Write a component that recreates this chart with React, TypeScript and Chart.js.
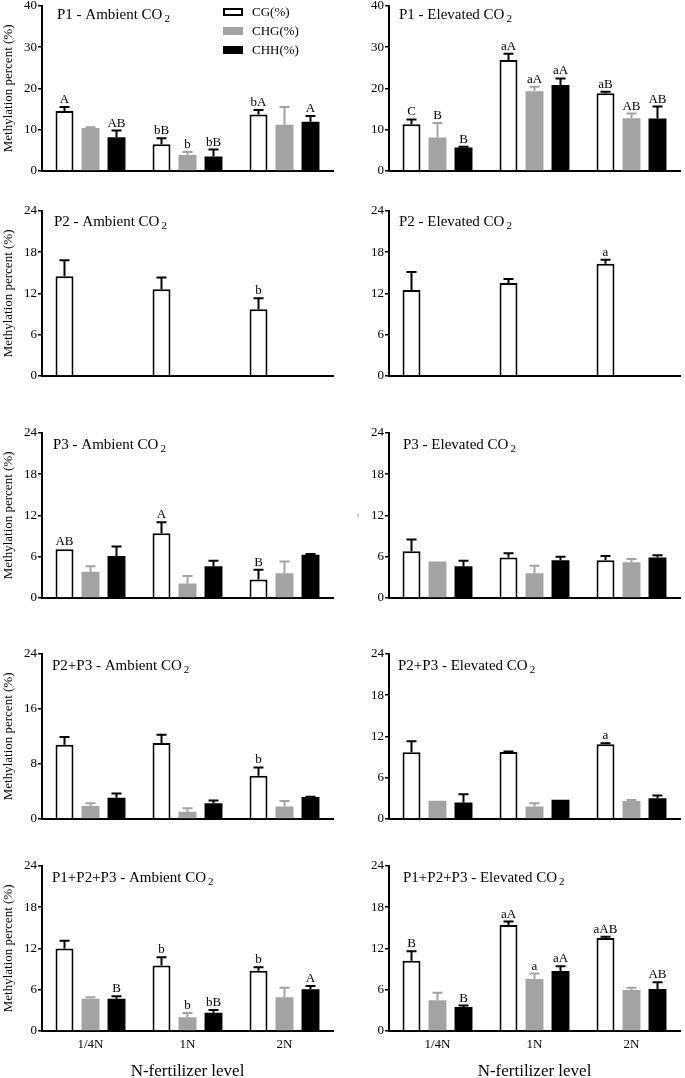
import React, { useEffect, useRef } from "react";
import { Chart, registerables } from "chart.js";
Chart.register(...registerables);

const FONT = "'Liberation Serif', 'Times New Roman', serif";

const categories = ["1/4N", "1N", "2N"];
const seriesNames = ["CG(%)", "CHG(%)", "CHH(%)"];
const yTitle = "Methylation percent (%)";
const xTitle = "N-fertilizer level";

// P1 - Ambient
const p1AmbCG = [14.5, 6.5, 13.7];
const p1AmbCGErr = [1.0, 1.4, 1.1];
const p1AmbCGLet = ["A", "bB", "bA"];
const p1AmbCHG = [10.4, 3.9, 11.2];
const p1AmbCHGErr = [0.2, 0.7, 4.3];
const p1AmbCHGLet = ["", "b", ""];
const p1AmbCHH = [8.2, 3.5, 11.9];
const p1AmbCHHErr = [1.6, 1.7, 1.4];
const p1AmbCHHLet = ["AB", "bB", "A"];

// P1 - Elevated
const p1EleCG = [11.3, 26.9, 18.8];
const p1EleCGErr = [1.2, 1.5, 0.4];
const p1EleCGLet = ["C", "aA", "aB"];
const p1EleCHG = [8.1, 19.3, 12.8];
const p1EleCHGErr = [3.5, 1.1, 1.1];
const p1EleCHGLet = ["B", "aA", "AB"];
const p1EleCHH = [5.7, 20.8, 12.7];
const p1EleCHHErr = [0.2, 1.6, 2.9];
const p1EleCHHLet = ["B", "aA", "AB"];

// P2
const p2AmbCG = [14.5, 12.6, 9.7];
const p2AmbCGErr = [2.3, 1.7, 1.6];
const p2AmbCGLet = ["", "", "b"];
const p2EleCG = [12.5, 13.5, 16.3];
const p2EleCGErr = [2.6, 0.6, 0.6];
const p2EleCGLet = ["", "", "a"];
const none = [null, null, null];

// P3 - Ambient
const p3AmbCG = [7.1, 9.4, 2.7];
const p3AmbCGErr = [0, 1.6, 1.4];
const p3AmbCGLet = ["AB", "A", "B"];
const p3AmbCHG = [3.8, 2.1, 3.6];
const p3AmbCHGErr = [0.8, 1.1, 1.7];
const p3AmbCHH = [6.1, 4.6, 6.3];
const p3AmbCHHErr = [1.4, 0.8, 0.1];

// P3 - Elevated
const p3EleCG = [6.8, 5.9, 5.5];
const p3EleCGErr = [1.7, 0.6, 0.6];
const p3EleCHG = [5.3, 3.6, 5.2];
const p3EleCHGErr = [0, 1.1, 0.45];
const p3EleCHH = [4.6, 5.5, 5.9];
const p3EleCHHErr = [0.8, 0.5, 0.3];

// P2+P3 - Ambient
const p23AmbCG = [10.8, 11.05, 6.3];
const p23AmbCGErr = [1.1, 1.2, 1.2];
const p23AmbCGLet = ["", "", "b"];
const p23AmbCHG = [1.9, 1.05, 1.8];
const p23AmbCHGErr = [0.4, 0.5, 0.8];
const p23AmbCHH = [3.1, 2.3, 3.2];
const p23AmbCHHErr = [0.6, 0.4, 0.05];

// P2+P3 - Elevated
const p23EleCG = [9.7, 9.75, 10.85];
const p23EleCGErr = [1.6, 0.05, 0.15];
const p23EleCGLet = ["", "", "a"];
const p23EleCHG = [2.65, 1.8, 2.6];
const p23EleCHGErr = [0, 0.5, 0.15];
const p23EleCHH = [2.4, 2.8, 3.0];
const p23EleCHHErr = [1.2, 0, 0.4];

// P1+P2+P3 - Ambient
const p123AmbCG = [12.0, 9.5, 8.75];
const p123AmbCGErr = [1.1, 1.2, 0.5];
const p123AmbCGLet = ["", "b", "b"];
const p123AmbCHG = [4.7, 2.0, 4.9];
const p123AmbCHGErr = [0.2, 0.6, 1.4];
const p123AmbCHGLet = ["", "b", ""];
const p123AmbCHH = [4.7, 2.65, 6.05];
const p123AmbCHHErr = [0.35, 0.4, 0.5];
const p123AmbCHHLet = ["B", "bB", "A"];

// P1+P2+P3 - Elevated
const p123EleCG = [10.2, 15.4, 13.5];
const p123EleCGErr = [1.4, 0.5, 0.2];
const p123EleCGLet = ["B", "aA", "aAB"];
const p123EleCHG = [4.45, 7.55, 5.95];
const p123EleCHGErr = [1.1, 0.8, 0.35];
const p123EleCHGLet = ["", "a", ""];
const p123EleCHH = [3.5, 8.7, 6.1];
const p123EleCHHErr = [0.2, 0.7, 1.0];
const p123EleCHHLet = ["B", "aA", "AB"];

const blank = ["", "", ""];
const zero = [0, 0, 0];

// layout geometry
const plotTop = [5, 210, 432, 653, 865];
const plotBottom = [171, 376, 598, 819, 1031];
const titleBase = [18.5, 226, 449, 670, 882];
const colLeft = [0, 340];
const colWidth = [340, 345];
const axisLeft = [42, 389];
const axisRight = [333, 680];
const titleX = [
  [57, 399],
  [54, 399],
  [53, 403],
  [52, 398],
  [52, 403],
];

type S = { v: (number | null)[]; e: number[]; l: string[] };
type PanelDef = {
  row: number;
  col: number;
  title: string;
  ymax: number;
  step: number;
  series: S[];
  legend?: boolean;
  yText?: string;
};

const panels: PanelDef[] = [
  {
    row: 0, col: 0, title: "P1 - Ambient CO", ymax: 40, step: 10, legend: true,
    series: [
      { v: p1AmbCG, e: p1AmbCGErr, l: p1AmbCGLet },
      { v: p1AmbCHG, e: p1AmbCHGErr, l: p1AmbCHGLet },
      { v: p1AmbCHH, e: p1AmbCHHErr, l: p1AmbCHHLet },
    ],
  },
  {
    row: 0, col: 1, title: "P1 - Elevated CO", ymax: 40, step: 10,
    series: [
      { v: p1EleCG, e: p1EleCGErr, l: p1EleCGLet },
      { v: p1EleCHG, e: p1EleCHGErr, l: p1EleCHGLet },
      { v: p1EleCHH, e: p1EleCHHErr, l: p1EleCHHLet },
    ],
  },
  {
    row: 1, col: 0, title: "P2 - Ambient CO", ymax: 24, step: 6,
    series: [
      { v: p2AmbCG, e: p2AmbCGErr, l: p2AmbCGLet },
      { v: none, e: zero, l: blank },
      { v: none, e: zero, l: blank },
    ],
  },
  {
    row: 1, col: 1, title: "P2 - Elevated CO", ymax: 24, step: 6,
    series: [
      { v: p2EleCG, e: p2EleCGErr, l: p2EleCGLet },
      { v: none, e: zero, l: blank },
      { v: none, e: zero, l: blank },
    ],
  },
  {
    row: 2, col: 0, title: "P3 - Ambient CO", ymax: 24, step: 6,
    series: [
      { v: p3AmbCG, e: p3AmbCGErr, l: p3AmbCGLet },
      { v: p3AmbCHG, e: p3AmbCHGErr, l: blank },
      { v: p3AmbCHH, e: p3AmbCHHErr, l: blank },
    ],
  },
  {
    row: 2, col: 1, title: "P3 - Elevated CO", ymax: 24, step: 6, yText: "=",
    series: [
      { v: p3EleCG, e: p3EleCGErr, l: blank },
      { v: p3EleCHG, e: p3EleCHGErr, l: blank },
      { v: p3EleCHH, e: p3EleCHHErr, l: blank },
    ],
  },
  {
    row: 3, col: 0, title: "P2+P3 - Ambient CO", ymax: 24, step: 8,
    series: [
      { v: p23AmbCG, e: p23AmbCGErr, l: p23AmbCGLet },
      { v: p23AmbCHG, e: p23AmbCHGErr, l: blank },
      { v: p23AmbCHH, e: p23AmbCHHErr, l: blank },
    ],
  },
  {
    row: 3, col: 1, title: "P2+P3 - Elevated CO", ymax: 24, step: 6,
    series: [
      { v: p23EleCG, e: p23EleCGErr, l: p23EleCGLet },
      { v: p23EleCHG, e: p23EleCHGErr, l: blank },
      { v: p23EleCHH, e: p23EleCHHErr, l: blank },
    ],
  },
  {
    row: 4, col: 0, title: "P1+P2+P3 - Ambient CO", ymax: 24, step: 6,
    series: [
      { v: p123AmbCG, e: p123AmbCGErr, l: p123AmbCGLet },
      { v: p123AmbCHG, e: p123AmbCHGErr, l: p123AmbCHGLet },
      { v: p123AmbCHH, e: p123AmbCHHErr, l: p123AmbCHHLet },
    ],
  },
  {
    row: 4, col: 1, title: "P1+P2+P3 - Elevated CO", ymax: 24, step: 6,
    series: [
      { v: p123EleCG, e: p123EleCGErr, l: p123EleCGLet },
      { v: p123EleCHG, e: p123EleCHGErr, l: p123EleCHGLet },
      { v: p123EleCHH, e: p123EleCHHErr, l: p123EleCHHLet },
    ],
  },
];

const fills = ["#ffffff", "#a3a3a3", "#000000"];
const borders = ["#000000", "#a3a3a3", "#000000"];
const borderWidths = [2, 0, 0];
const errColors = ["#000000", "#a3a3a3", "#000000"];

const errorBarPlugin = {
  id: "errorBars",
  afterDatasetsDraw(chart: any) {
    const { ctx } = chart;
    const y = chart.scales.y;
    chart.data.datasets.forEach((ds: any, i: number) => {
      const meta = chart.getDatasetMeta(i);
      meta.data.forEach((bar: any, j: number) => {
        const v = ds.data[j];
        if (v == null) return;
        const e = (ds.errors && ds.errors[j]) || 0;
        const yTop = y.getPixelForValue(v + e);
        ctx.save();
        if (e > 0) {
          ctx.strokeStyle = ds.errorColor;
          ctx.lineWidth = 2;
          ctx.beginPath();
          ctx.moveTo(bar.x, bar.y);
          ctx.lineTo(bar.x, yTop);
          ctx.moveTo(bar.x - 5, yTop);
          ctx.lineTo(bar.x + 5, yTop);
          ctx.stroke();
        }
        const lab = ds.letters && ds.letters[j];
        if (lab) {
          ctx.fillStyle = "#000";
          ctx.font = `13px ${FONT}`;
          ctx.textAlign = "center";
          ctx.textBaseline = "alphabetic";
          ctx.fillText(lab, bar.x, yTop - 4);
        }
        ctx.restore();
      });
    });
  },
};

const panelTitlePlugin = {
  id: "panelTitle",
  afterDraw(chart: any, _args: any, opts: any) {
    if (!opts || !opts.text) return;
    const { ctx } = chart;
    ctx.save();
    ctx.fillStyle = "#000";
    ctx.textAlign = "left";
    ctx.textBaseline = "alphabetic";
    ctx.font = `15px ${FONT}`;
    ctx.fillText(opts.text, opts.x, opts.y);
    const w = ctx.measureText(opts.text).width;
    ctx.font = `11px ${FONT}`;
    ctx.fillText(opts.sub, opts.x + w + 2, opts.y + 3);
    ctx.restore();
  },
};

const boxLegendPlugin = {
  id: "boxLegend",
  afterDraw(chart: any, _args: any, opts: any) {
    if (!opts || !opts.show) return;
    const { ctx } = chart;
    ctx.save();
    chart.data.datasets.forEach((ds: any, i: number) => {
      const cy = opts.y + i * 19;
      const bx = opts.x;
      ctx.fillStyle = ds.backgroundColor;
      ctx.fillRect(bx, cy - 4, 20, 8);
      if (ds.borderWidth > 0) {
        ctx.strokeStyle = ds.borderColor;
        ctx.lineWidth = 2;
        ctx.strokeRect(bx + 1, cy - 3, 18, 6);
      }
      ctx.fillStyle = "#000";
      ctx.font = `13px ${FONT}`;
      ctx.textAlign = "left";
      ctx.textBaseline = "middle";
      ctx.fillText(ds.label, bx + 29, cy + 1);
    });
    ctx.restore();
  },
};

function Panel({ p }: { p: PanelDef }) {
  const ref = useRef<HTMLCanvasElement | null>(null);
  const last = p.row === 4;
  const xh = last ? 51 : 10;
  const left = colLeft[p.col];
  const width = colWidth[p.col];
  const top = plotTop[p.row] - 8;
  const height = 8 + (plotBottom[p.row] - plotTop[p.row]) + xh;
  const yw = axisLeft[p.col] - left;
  const padRight = width - (axisRight[p.col] - left);

  useEffect(() => {
    if (!ref.current) return;
    const chart = new Chart(ref.current, {
      type: "bar",
      data: {
        labels: categories,
        datasets: p.series.map((s, i) => ({
          label: seriesNames[i],
          data: s.v,
          errors: s.e,
          letters: s.l,
          errorColor: errColors[i],
          backgroundColor: fills[i],
          borderColor: borders[i],
          borderWidth: borderWidths[i],
          categoryPercentage: 0.804,
          barPercentage: 0.69,
        })) as any,
      },
      options: {
        responsive: false,
        animation: false,
        events: [],
        layout: { padding: { top: 8, left: 0, right: padRight, bottom: 0 } },
        plugins: {
          legend: { display: false },
          tooltip: { enabled: false },
          panelTitle: {
            text: p.title,
            sub: "2",
            x: titleX[p.row][p.col] - left,
            y: titleBase[p.row] - top,
          },
          boxLegend: { show: !!p.legend, x: 223 - left, y: 12 - top },
        } as any,
        scales: {
          x: {
            ticks: {
              display: last,
              color: "#000",
              font: { family: FONT, size: 13 },
              padding: 6,
            },
            grid: { display: false, drawTicks: false },
            border: { display: true, color: "#000", width: 2 },
            title: {
              display: last,
              text: xTitle,
              color: "#000",
              font: { family: FONT, size: 17 },
              padding: { top: 0, bottom: 0 },
            },
            afterFit: (s: any) => {
              s.height = xh;
            },
          },
          y: {
            min: 0,
            max: p.ymax,
            ticks: {
              stepSize: p.step,
              color: "#000",
              font: { family: FONT, size: 13 },
              padding: 1,
            },
            grid: {
              display: true,
              drawOnChartArea: false,
              drawTicks: true,
              tickLength: 4,
              color: "#000",
              lineWidth: 1.5,
            },
            border: { display: true, color: "#000", width: 2 },
            title: p.col === 0
              ? {
                  display: true,
                  text: yTitle,
                  color: "#000",
                  font: { family: FONT, size: 13 },
                  padding: { top: 1, bottom: 0 },
                }
              : {
                  display: !!p.yText,
                  text: p.yText || "",
                  color: "#888",
                  font: { family: FONT, size: 8 },
                  padding: { top: 14, bottom: 0 },
                },
            afterFit: (s: any) => {
              s.width = yw;
            },
          },
        },
      },
      plugins: [errorBarPlugin, panelTitlePlugin, boxLegendPlugin],
    } as any);
    return () => chart.destroy();
  }, []);

  return (
    <canvas
      ref={ref}
      width={width}
      height={height}
      style={{ position: "absolute", left, top, width, height }}
    />
  );
}

export default function App() {
  return (
    <div
      style={{
        position: "absolute",
        left: 0,
        top: 0,
        width: 685,
        height: 1078,
        overflow: "hidden",
        background: "#fff",
      }}
    >
      {panels.map((p, i) => (
        <Panel key={i} p={p} />
      ))}
    </div>
  );
}
